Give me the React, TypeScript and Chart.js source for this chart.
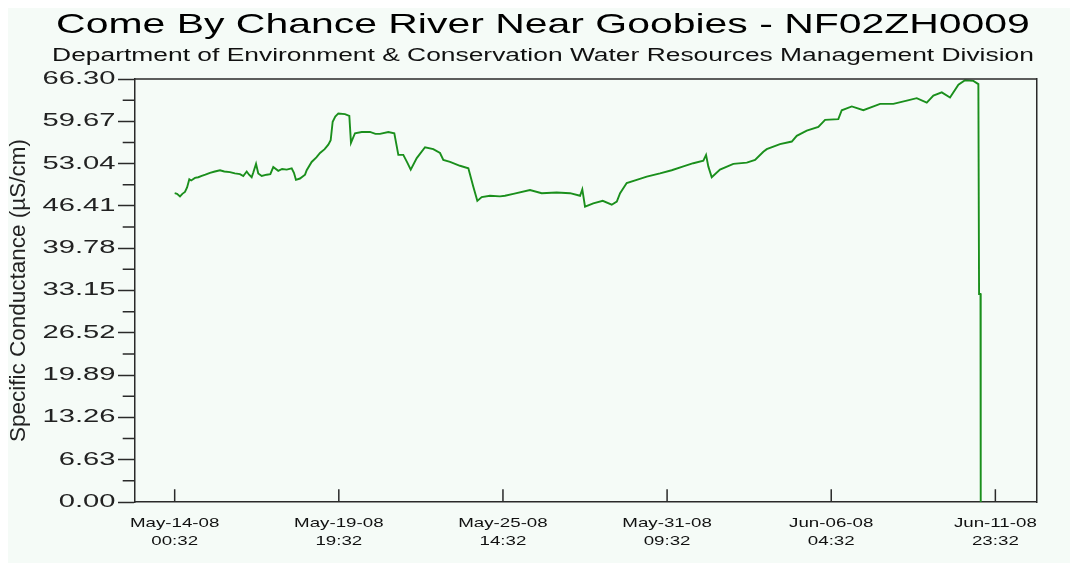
import React, { useEffect, useRef } from "react";
import { Chart, registerables } from "chart.js";

Chart.register(...registerables);

// Hours after May-14-08 00:32 and the specific conductance read at that time (µS/cm)
const hours = [
  0, 2, 4.5, 6.5, 8.7, 10.5, 12.4, 14, 17.2, 20, 22.9, 26, 29.9, 34, 38.4, 42, 46.8, 51, 55.3, 58.1,
  61.0, 63, 65.2, 66.5, 68.9, 70.8, 73.7, 77.9, 81, 83.5, 87.7, 91, 94.9, 99.1, 101.0, 102.7, 106.1,
  110.4, 111.8, 116.0, 120, 123.1, 127, 130.1, 132.1, 133.8, 136, 138.6, 144.2, 147.9, 149.3, 152.7,
  158.4, 165.4, 170, 173.9, 180.9, 186.0, 189.4, 193.6, 197, 199.9, 205.0, 212.0, 219.0, 224.7, 227.5,
  233.2, 241.6, 248.7, 252.9, 256.3, 260.0, 267.0, 275.5, 279.7, 286.8, 300.9, 310.8, 323.5, 334.8,
  343.3, 345.2, 347.5, 354.5, 362.5, 370.1, 374.4, 377.2, 382.8, 391.3, 399.8, 411.0, 420.9, 430.8,
  439.2, 447.7, 450.0, 451.9, 454.8, 461.8, 473.1, 484.5, 491.5, 498.5, 501.4, 512.6, 522.6, 526.8,
  535.3, 545.1, 550.8, 562.0, 564.9, 573.4, 583.2, 597.4, 608.6, 620.0, 628.4, 636.9, 642.5, 649.6,
  656.6, 663.7, 669.3, 676.4, 680.6, 681.2, 682.4, 682.6,
];

const conductance = [
  48.4, 48.3, 47.9, 48.3, 48.6, 49.3, 50.6, 50.4, 50.8, 50.9, 51.1, 51.3, 51.6, 51.8, 52.0, 51.8, 51.7,
  51.5, 51.4, 51.1, 51.8, 51.3, 50.9, 51.6, 53.0, 51.5, 51.1, 51.3, 51.4, 52.5, 51.9, 52.2, 52.1, 52.3,
  51.6, 50.5, 50.7, 51.3, 52.0, 53.3, 54.0, 54.7, 55.3, 56.0, 56.7, 59.6, 60.4, 60.9, 60.8, 60.5, 56.3,
  57.8, 58.0, 58.0, 57.7, 57.7, 58.0, 57.8, 54.4, 54.4, 53.2, 52.1, 53.9, 55.6, 55.3, 54.7, 53.6, 53.3,
  52.7, 52.3, 49.4, 47.2, 47.8, 48.0, 47.9, 48.0, 48.3, 48.9, 48.4, 48.5, 48.4, 48.0, 49.0, 46.3, 46.8,
  47.2, 46.6, 47.1, 48.4, 50.0, 50.5, 51.0, 51.5, 52.0, 52.6, 53.1, 53.5, 54.4, 52.6, 50.9, 52.1, 53.0,
  53.2, 53.6, 54.9, 55.3, 56.1, 56.5, 57.4, 58.2, 58.8, 59.9, 60.0, 61.4, 62.0, 61.4, 62.4, 62.4, 62.9,
  63.3, 62.6, 63.7, 64.2, 63.4, 65.4, 66.1, 66.0, 65.5, 32.6, 32.6, 0,
];

// Axis ticks
const xTickHours = [0, 139, 278, 417, 556, 695];
const xTickLabels = [
  ["May-14-08", "00:32"],
  ["May-19-08", "19:32"],
  ["May-25-08", "14:32"],
  ["May-31-08", "09:32"],
  ["Jun-06-08", "04:32"],
  ["Jun-11-08", "23:32"],
];
const yTickValues = [0, 6.63, 13.26, 19.89, 26.52, 33.15, 39.78, 46.41, 53.04, 59.67, 66.3];
const yTickLabels = ["0.00", "6.63", "13.26", "19.89", "26.52", "33.15", "39.78", "46.41", "53.04", "59.67", "66.30"];

const titleText = "Come By Chance River Near Goobies - NF02ZH0009";
const subtitleText = "Department of Environment & Conservation Water Resources Management Division";
const yAxisTitle = "Specific Conductance (µS/cm)";

const FONT = "'Liberation Sans', Arial, sans-serif";
const AXIS_COLOR = "#2a2a2a";
const LINE_COLOR = "#1a8f1c";

// Horizontal glyph widening, keyed by font size: the labels use a broad face
const widenBySize: Record<string, number> = { "28": 1.462, "17.5": 1.508, "18": 1.62, "13": 1.44 };

const widenText = {
  id: "widenText",
  beforeDraw(chart: any) {
    const ctx = chart.ctx;
    const base = CanvasRenderingContext2D.prototype.fillText;
    ctx.fillText = function (text: string, x: number, y: number, maxWidth?: number) {
      const m = /([\d.]+)px/.exec(ctx.font);
      const k = m ? widenBySize[m[1]] ?? 1 : 1;
      if (k === 1) {
        return maxWidth === undefined ? base.call(ctx, text, x, y) : base.call(ctx, text, x, y, maxWidth);
      }
      ctx.save();
      ctx.translate(x, y);
      ctx.scale(k, 1);
      base.call(ctx, text, 0, 0);
      ctx.restore();
    };
  },
  afterDraw(chart: any) {
    delete chart.ctx.fillText;
  },
};

// Plot frame top edge, inward x ticks and minor y ticks
const axisMarks = {
  id: "axisMarks",
  afterDraw(chart: any) {
    const { ctx, chartArea } = chart;
    const { left, right, top, bottom } = chartArea;
    const xs = chart.scales.x;
    const ys = chart.scales.y;
    ctx.save();
    ctx.strokeStyle = AXIS_COLOR;
    ctx.lineWidth = 1.5;
    ctx.beginPath();
    ctx.moveTo(left, top);
    ctx.lineTo(right, top);
    for (const t of xs.ticks) {
      const px = xs.getPixelForValue(t.value);
      ctx.moveTo(px, bottom);
      ctx.lineTo(px, bottom - 12.7);
    }
    for (let i = 0; i + 1 < yTickValues.length; i++) {
      const py = ys.getPixelForValue((yTickValues[i] + yTickValues[i + 1]) / 2);
      ctx.moveTo(left - 12.3, py);
      ctx.lineTo(left, py);
    }
    ctx.stroke();
    ctx.restore();
  },
};

export default function App() {
  const canvasRef = useRef<HTMLCanvasElement | null>(null);

  useEffect(() => {
    const canvas = canvasRef.current;
    if (!canvas) return;
    const chart = new Chart(canvas, {
      type: "line",
      data: {
        datasets: [
          {
            data: hours.map((h, i) => ({ x: h, y: conductance[i] })),
            borderColor: LINE_COLOR,
            borderWidth: 1.9,
            pointRadius: 0,
            tension: 0,
            fill: false,
          },
        ],
      },
      options: {
        responsive: false,
        animation: false,
        devicePixelRatio: 1,
        layout: { padding: 0 },
        events: [],
        plugins: {
          legend: { display: false },
          tooltip: { enabled: false },
          title: {
            display: true,
            text: titleText,
            color: "#000",
            font: { family: FONT, size: 28, weight: "normal", lineHeight: 1.2 },
            padding: { top: 0, bottom: 4 },
          },
          subtitle: {
            display: true,
            text: subtitleText,
            color: "#111",
            font: { family: FONT, size: 17.5, weight: "normal", lineHeight: 1.2 },
            padding: { top: 0, bottom: 12.4 },
          },
        },
        scales: {
          x: {
            type: "linear",
            min: -33.6,
            max: 730,
            bounds: "data",
            afterBuildTicks: (scale: any) => {
              scale.ticks = xTickHours.map((v) => ({ value: v }));
            },
            afterFit: (scale: any) => {
              scale.height = 61;
            },
            ticks: {
              autoSkip: false,
              maxRotation: 0,
              padding: 12.3,
              color: "#111",
              font: { family: FONT, size: 13, lineHeight: 1.415 },
              callback: (_v: any, i: number) => xTickLabels[i],
            },
            grid: { display: true, drawOnChartArea: false, drawTicks: false, color: AXIS_COLOR },
            border: { display: true, color: AXIS_COLOR, width: 1.5 },
          },
          y: {
            type: "linear",
            position: "left",
            min: 0,
            max: 66.3,
            bounds: "data",
            afterBuildTicks: (scale: any) => {
              scale.ticks = yTickValues.map((v) => ({ value: v }));
            },
            afterFit: (scale: any) => {
              scale.width = 127;
            },
            ticks: {
              padding: 2.5,
              color: "#222",
              font: { family: FONT, size: 18 },
              callback: (_v: any, i: number) => yTickLabels[i],
            },
            grid: {
              drawOnChartArea: false,
              drawTicks: true,
              tickLength: 17,
              tickWidth: 1.5,
              tickColor: AXIS_COLOR,
              color: AXIS_COLOR,
            },
            border: { display: true, color: AXIS_COLOR, width: 1.5 },
            title: {
              display: true,
              text: yAxisTitle,
              color: "#222",
              font: { family: FONT, size: 22.5, lineHeight: 1 },
              padding: 0,
            },
          },
          yRight: {
            type: "linear",
            position: "right",
            display: true,
            afterFit: (scale: any) => {
              scale.width = 41.3;
            },
            ticks: { display: false },
            grid: { display: false },
            border: { display: true, color: AXIS_COLOR, width: 1.5 },
          },
        },
      },
      plugins: [widenText, axisMarks],
    } as any);
    return () => chart.destroy();
  }, []);

  return (
    <div style={{ width: 1070, height: 555, background: "#f5fbf7" }}>
      <canvas ref={canvasRef} width={1070} height={555} style={{ display: "block" }} />
    </div>
  );
}
